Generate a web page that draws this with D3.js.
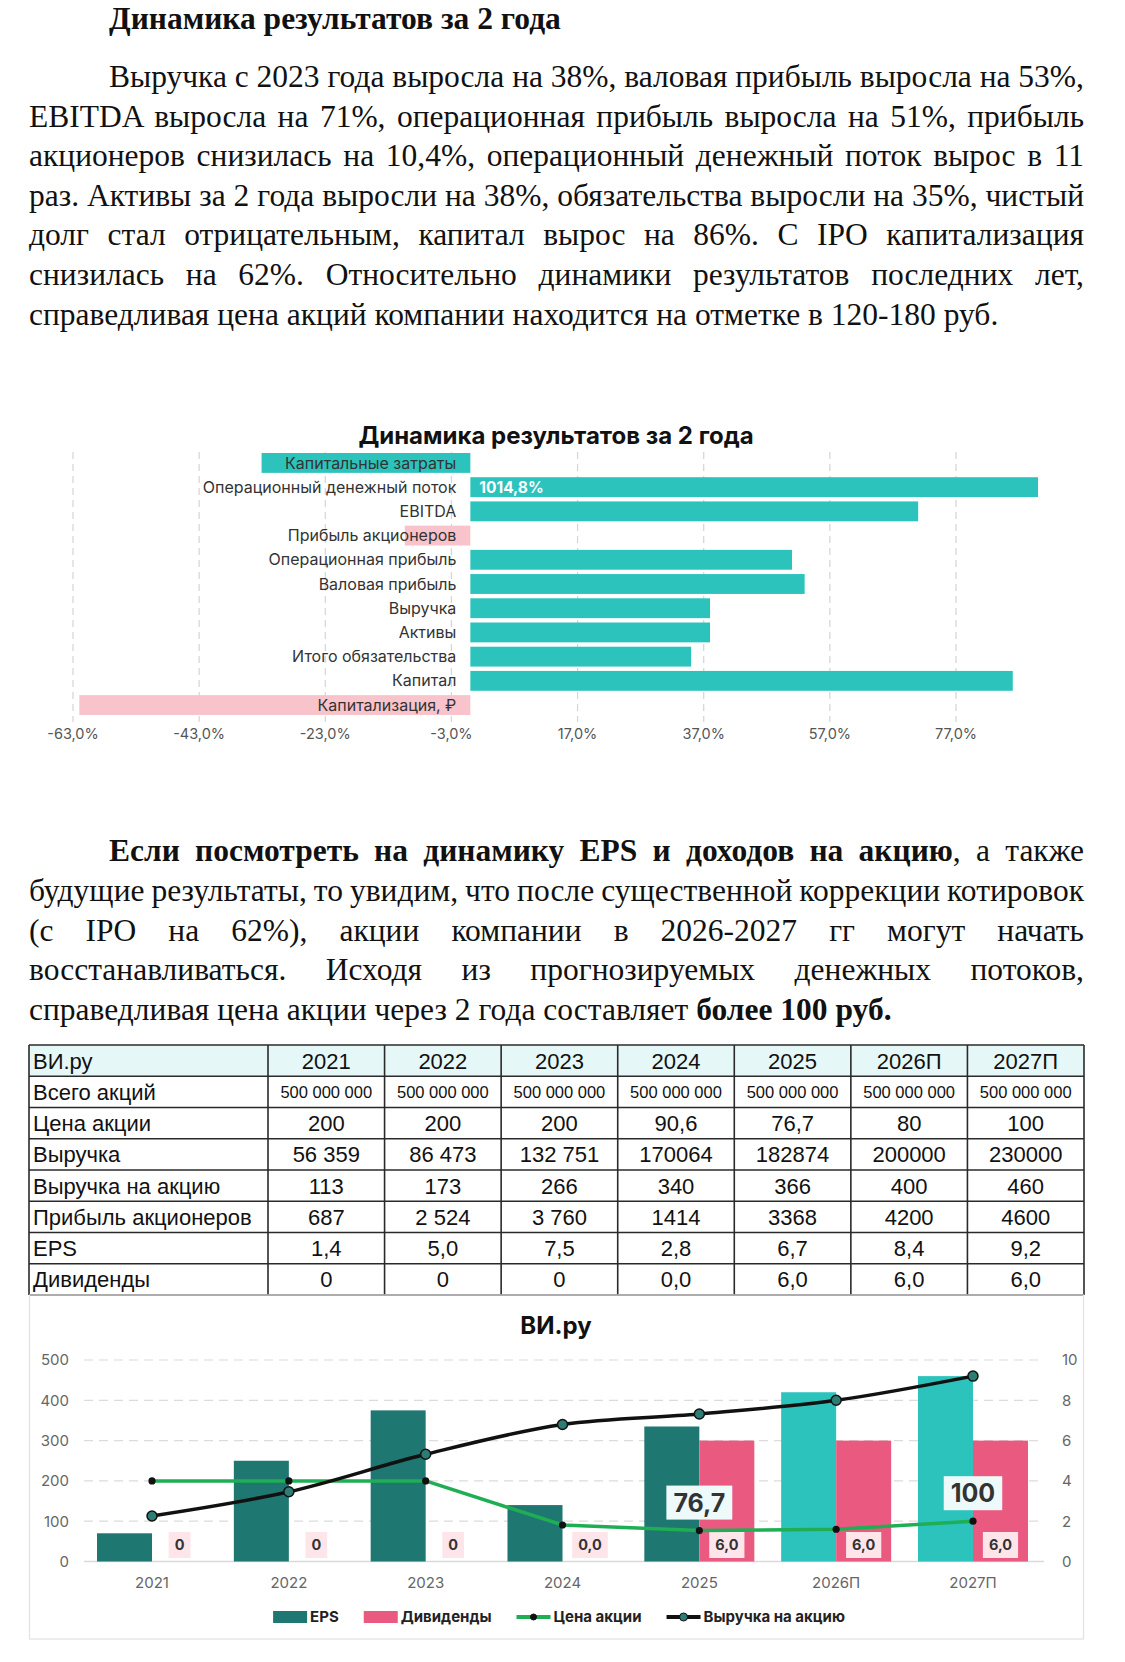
<!DOCTYPE html>
<html lang="ru">
<head>
<meta charset="utf-8">
<title>ВИ.ру — динамика результатов</title>
<script src="https://cdn.jsdelivr.net/npm/d3@7/dist/d3.min.js"></script>
<style>
  html, body { margin: 0; padding: 0; background: #fff; }
  #page { position: relative; width: 1125px; height: 1662px; overflow: hidden; }
  #page svg { position: absolute; left: 0; top: 0; }
  .ln { position: absolute; white-space: pre; font-family: "Liberation Serif", "Times New Roman", serif;
        font-size: 31.5px; line-height: 40px; color: #111; }
  .ln b { font-weight: 700; }
</style>
</head>
<body>
<div id="page"><svg id="svg" width="1125" height="1662"></svg></div>
<script>
// ---------- text ----------
const pageTitle = 'Динамика результатов за 2 года';
const para1 = [
    'Выручка с 2023 года выросла на 38%, валовая прибыль выросла на 53%,',
    'EBITDA выросла на 71%, операционная прибыль выросла на 51%, прибыль',
    'акционеров снизилась на 10,4%, операционный денежный поток вырос в 11',
    'раз. Активы за 2 года выросли на 38%, обязательства выросли на 35%, чистый',
    'долг стал отрицательным, капитал вырос на 86%. С IPO капитализация',
    'снизилась на 62%. Относительно динамики результатов последних лет,',
    'справедливая цена акций компании находится на отметке в 120-180 руб.'
];
const para2 = [
    '**Если посмотреть на динамику EPS и доходов на акцию**, а также',
    'будущие результаты, то увидим, что после существенной коррекции котировок',
    '(с IPO на 62%), акции компании в 2026-2027 гг могут начать',
    'восстанавливаться. Исходя из прогнозируемых денежных потоков,',
    'справедливая цена акции через 2 года составляет **более 100 руб.**'
];

// ---------- growth chart data (% change over 2 years) ----------
const growthTitle = 'Динамика результатов за 2 года';
const growthCats = ['Капитальные затраты', 'Операционный денежный поток', 'EBITDA', 'Прибыль акционеров',
    'Операционная прибыль', 'Валовая прибыль', 'Выручка', 'Активы', 'Итого обязательства', 'Капитал',
    'Капитализация, ₽'];
const growthVals = [-33.1, 1014.8, 71, -10.4, 51, 53, 38, 38, 35, 86, -62];
const growthTicks = [-63, -43, -23, -3, 17, 37, 57, 77];
const lowerIsBetter = ['Капитальные затраты'];

// ---------- company data ----------
const years = ['2021', '2022', '2023', '2024', '2025', '2026П', '2027П'];
const forecastYears = ['2026П', '2027П'];
const shares = [500000000, 500000000, 500000000, 500000000, 500000000, 500000000, 500000000];
const price = [200, 200, 200, 90.6, 76.7, 80, 100];
const revenue = [56359, 86473, 132751, 170064, 182874, 200000, 230000];
const revPerShare = [113, 173, 266, 340, 366, 400, 460];
const netProfit = [687, 2524, 3760, 1414, 3368, 4200, 4600];
const eps = [1.4, 5.0, 7.5, 2.8, 6.7, 8.4, 9.2];
const dividends = [0, 0, 0, 0, 6, 6, 6];
const priceLabelYears = ['2025', '2027П'];

const TEAL = '#2cc3bc', DARK_TEAL = '#1f7772', PINK = '#f8c3ca', HOT_PINK = '#ea5a80', GREEN = '#1fae54';
const SANS = 'Inter, "Noto Sans", sans-serif';

const page = d3.select('#page');
const svg = d3.select('#svg');

// ---------- justified text lines ----------
function addLine(str, left, right, center, justify, bold) {
    const div = page.append('div').attr('class', 'ln')
        .style('left', left + 'px')
        .style('top', (center - 20) + 'px');
    str.split('**').forEach((part, i) => {
        if (!part) return;
        (i % 2 === 1 || bold ? div.append('b') : div.append('span')).text(part);
    });
    if (justify) {
        const natural = div.node().getBoundingClientRect().width;
        const spaces = (str.match(/ /g) || []).length;
        div.style('word-spacing', ((right - left - natural) / spaces) + 'px');
    }
}

addLine(pageTitle, 109, 1084, 19, false, true);
para1.forEach((s, i) => addLine(s, i === 0 ? 109 : 29, 1084, 77 + i * 39.6, i < para1.length - 1));
para2.forEach((s, i) => addLine(s, i === 0 ? 109 : 29, 1084, 851 + i * 39.8, i < para2.length - 1));

// ---------- growth bar chart ----------
const pct = v => v.toFixed(1).replace('.', ',') + '%';
const gx = d3.scaleLinear().domain([-63, 90]).range([73, 1038]);
const gy = d3.scaleBand().domain(growthCats).range([453, 715]).paddingInner(0.18);
const g1 = svg.append('g');

g1.append('text')
    .attr('x', 556).attr('y', 436).attr('dy', '0.35em')
    .attr('text-anchor', 'middle')
    .style('font', `700 24px ${SANS}`).style('fill', '#111')
    .text(growthTitle);

g1.append('g').selectAll('line').data(growthTicks).join('line')
    .attr('x1', d => gx(d)).attr('x2', d => gx(d))
    .attr('y1', 452).attr('y2', 722)
    .attr('stroke', '#d4d4d4').attr('stroke-width', 1.2).attr('stroke-dasharray', '7,5');

g1.append('g').selectAll('text').data(growthTicks).join('text')
    .attr('x', d => gx(d)).attr('y', 734).attr('dy', '0.35em')
    .attr('text-anchor', 'middle')
    .style('font', `400 14.5px ${SANS}`).style('fill', '#555')
    .text(pct);

const growthRows = growthCats.map((c, i) => ({ cat: c, v: growthVals[i] }));
const maxShown = gx.domain()[1];

g1.append('g').selectAll('rect').data(growthRows).join('rect')
    .attr('x', d => gx(Math.min(0, d.v)))
    .attr('width', d => Math.abs(gx(Math.min(d.v, maxShown)) - gx(0)))
    .attr('y', d => gy(d.cat))
    .attr('height', gy.bandwidth())
    .attr('fill', d => ((d.v >= 0) !== lowerIsBetter.includes(d.cat)) ? TEAL : PINK);

g1.append('g').selectAll('text').data(growthRows).join('text')
    .attr('x', gx(0) - 14).attr('y', d => gy(d.cat) + gy.bandwidth() / 2).attr('dy', '0.35em')
    .attr('text-anchor', 'end')
    .style('font', `400 16px ${SANS}`).style('fill', '#333')
    .text(d => d.cat);

// values that run past the axis get a label inside the bar
g1.append('g').selectAll('text').data(growthRows.filter(d => d.v > maxShown)).join('text')
    .attr('x', gx(0) + 9).attr('y', d => gy(d.cat) + gy.bandwidth() / 2).attr('dy', '0.36em')
    .style('font', `700 15.5px ${SANS}`).style('fill', '#fff')
    .text(d => pct(d.v));

// ---------- table ----------
const ru = d3.formatLocale({ decimal: ',', thousands: ' ', grouping: [3], currency: ['', ''] });
const grouped = ru.format(',d'), plain = ru.format('d'), one = ru.format('.1f');
const oldStyle = i => i < 3; // 2021-2023 figures are written with spaces / as integers

const tableRows = [
    { label: 'ВИ.ру', vals: years, fmt: d => d, head: true },
    { label: 'Всего акций', vals: shares, fmt: d => grouped(d), small: true },
    { label: 'Цена акции', vals: price, fmt: d => Number.isInteger(d) ? plain(d) : one(d) },
    { label: 'Выручка', vals: revenue, fmt: (d, i) => oldStyle(i) ? grouped(d) : plain(d) },
    { label: 'Выручка на акцию', vals: revPerShare, fmt: d => plain(d) },
    { label: 'Прибыль акционеров', vals: netProfit, fmt: (d, i) => oldStyle(i) ? grouped(d) : plain(d) },
    { label: 'EPS', vals: eps, fmt: d => one(d) },
    { label: 'Дивиденды', vals: dividends, fmt: (d, i) => oldStyle(i) ? plain(d) : one(d) }
];

const tLeft = 29, tRight = 1084, tSplit = 268;
const ty = d3.scaleBand().domain(d3.range(tableRows.length)).range([1045, 1295]);
const tx = d3.scaleBand().domain(years).range([tSplit, tRight]);
const tg = svg.append('g');
const TFONT = '"Liberation Sans", Arial, sans-serif';

tg.append('rect').attr('x', tLeft).attr('y', ty(0)).attr('width', tRight - tLeft)
    .attr('height', ty.bandwidth()).attr('fill', '#e6f7f8');

tableRows.forEach((row, r) => {
    const yc = ty(r) + ty.bandwidth() / 2;
    const fs = row.small ? 16.5 : 22;
    tg.append('text').attr('x', tLeft + 4).attr('y', yc).attr('dy', '0.36em')
        .style('font', `400 22px ${TFONT}`).style('fill', '#111')
        .text(row.label);
    tg.append('g').selectAll('text').data(row.vals).join('text')
        .attr('x', (d, i) => tx(years[i]) + tx.bandwidth() / 2).attr('y', yc).attr('dy', '0.36em')
        .attr('text-anchor', 'middle')
        .style('font', `400 ${fs}px ${TFONT}`).style('fill', '#111')
        .text((d, i) => row.fmt(d, i));
});

const hLines = d3.range(tableRows.length + 1).map(r => r < tableRows.length ? ty(r) : ty.range()[1]);
tg.append('g').selectAll('line').data(hLines).join('line')
    .attr('x1', tLeft).attr('x2', tRight).attr('y1', d => d).attr('y2', d => d)
    .attr('stroke', '#2a2a2a').attr('stroke-width', 1.6);
const vLines = [tLeft, ...years.map(y => tx(y)), tRight];
tg.append('g').selectAll('line').data(vLines).join('line')
    .attr('x1', d => d).attr('x2', d => d).attr('y1', ty.range()[0]).attr('y2', ty.range()[1])
    .attr('stroke', '#2a2a2a').attr('stroke-width', 1.6);

// ---------- combo chart ----------
const cg = svg.append('g');
cg.append('rect').attr('x', 29.5).attr('y', 1295).attr('width', 1054).attr('height', 344)
    .attr('fill', 'none').attr('stroke', '#e2e2e2').attr('stroke-width', 1.2);

cg.append('text').attr('x', 556).attr('y', 1326).attr('dy', '0.35em').attr('text-anchor', 'middle')
    .style('font', `700 24px ${SANS}`).style('fill', '#111').text('ВИ.ру');

const cx = d3.scaleBand().domain(years).range([83.6, 1041.4]).paddingInner(0.196).paddingOuter(0.098);
const sub = d3.scaleBand().domain(['eps', 'div']).range([0, cx.bandwidth()]);
const yL = d3.scaleLinear().domain([0, 500]).range([1561.5, 1360]);
const yR = d3.scaleLinear().domain([0, 10]).range([1561.5, 1360]);

cg.append('g').selectAll('line').data(yL.ticks(5).filter(d => d > 0)).join('line')
    .attr('x1', 84).attr('x2', 1044).attr('y1', d => yL(d)).attr('y2', d => yL(d))
    .attr('stroke', '#dcdcdc').attr('stroke-width', 1.2).attr('stroke-dasharray', '9,6');
cg.append('line').attr('x1', 84).attr('x2', 1044).attr('y1', yL(0)).attr('y2', yL(0))
    .attr('stroke', '#d9d9d9').attr('stroke-width', 1.5);

const styleAxis = g => {
    g.select('.domain').remove();
    g.selectAll('text').style('font', `400 15px ${SANS}`).style('fill', '#666');
};
cg.append('g').attr('transform', 'translate(72,0)')
    .call(d3.axisLeft(yL).ticks(5).tickSize(0).tickPadding(3)).call(styleAxis);
cg.append('g').attr('transform', 'translate(1059,0)')
    .call(d3.axisRight(yR).ticks(5).tickSize(0).tickPadding(3)).call(styleAxis);
cg.append('g').attr('transform', `translate(0,${yL(0)})`)
    .call(d3.axisBottom(cx).tickSize(0).tickPadding(16)).call(styleAxis);

const rows = years.map((y, i) => ({
    year: y, eps: eps[i], div: dividends[i], price: price[i], rev: revPerShare[i]
}));

// bars
cg.append('g').selectAll('rect').data(rows).join('rect')
    .attr('x', d => cx(d.year) + sub('eps')).attr('width', sub.bandwidth())
    .attr('y', d => yR(d.eps)).attr('height', d => yR(0) - yR(d.eps))
    .attr('fill', d => forecastYears.includes(d.year) ? TEAL : DARK_TEAL);
cg.append('g').selectAll('rect').data(rows).join('rect')
    .attr('x', d => cx(d.year) + sub('div')).attr('width', sub.bandwidth())
    .attr('y', d => yR(d.div)).attr('height', d => yR(0) - yR(d.div))
    .attr('fill', HOT_PINK);

// dividend labels
const divLab = cg.append('g').selectAll('g').data(rows).join('g')
    .attr('transform', d => `translate(${cx(d.year) + sub('div') + sub.bandwidth() / 2},1545)`);
divLab.append('text').attr('text-anchor', 'middle').attr('dy', '0.36em')
    .style('font', `700 14.5px ${SANS}`).style('fill', '#333')
    .text((d, i) => oldStyle(i) ? plain(d.div) : one(d.div));
divLab.each(function () {
    const t = d3.select(this).select('text');
    const w = t.node().getComputedTextLength() + 12;
    d3.select(this).insert('rect', 'text').attr('x', -w / 2).attr('y', -13)
        .attr('width', w).attr('height', 26).attr('fill', '#fde5ea');
});

// lines
const cx0 = d => cx(d.year) + cx.bandwidth() / 2;
const revLine = d3.line().x(cx0).y(d => yL(d.rev)).curve(d3.curveCatmullRom.alpha(0.5));
const priceLine = d3.line().x(cx0).y(d => yL(d.price));

cg.append('path').datum(rows).attr('d', priceLine)
    .attr('fill', 'none').attr('stroke', GREEN).attr('stroke-width', 3.5).attr('stroke-linejoin', 'round');
cg.append('g').selectAll('circle').data(rows).join('circle')
    .attr('cx', cx0).attr('cy', d => yL(d.price)).attr('r', 3.6).attr('fill', '#111');

cg.append('path').datum(rows).attr('d', revLine)
    .attr('fill', 'none').attr('stroke', '#111').attr('stroke-width', 3.5);
cg.append('g').selectAll('circle').data(rows).join('circle')
    .attr('cx', cx0).attr('cy', d => yL(d.rev)).attr('r', 5)
    .attr('fill', '#2d7d77').attr('stroke', '#111').attr('stroke-width', 1.5);

// price call-outs
const pLab = cg.append('g').selectAll('g').data(rows.filter(d => priceLabelYears.includes(d.year))).join('g')
    .attr('transform', d => `translate(${cx0(d)},${yL(d.price) - 28})`);
pLab.append('text').attr('text-anchor', 'middle').attr('dy', '0.36em')
    .style('font', `700 25px ${SANS}`).style('fill', '#333')
    .text(d => Number.isInteger(d.price) ? plain(d.price) : one(d.price));
pLab.each(function () {
    const t = d3.select(this).select('text');
    const w = t.node().getComputedTextLength() + 14;
    d3.select(this).insert('rect', 'text').attr('x', -w / 2).attr('y', -17)
        .attr('width', w).attr('height', 34).attr('fill', '#eefaf9');
});

// legend
const legendItems = [
    { name: 'EPS', type: 'bar', color: DARK_TEAL },
    { name: 'Дивиденды', type: 'bar', color: HOT_PINK },
    { name: 'Цена акции', type: 'line', color: GREEN, dot: '#111', r: 3 },
    { name: 'Выручка на акцию', type: 'line', color: '#111', dot: '#2d7d77', r: 4 }
];
const lg = cg.append('g');
let lxPos = 0;
legendItems.forEach(item => {
    const it = lg.append('g').attr('transform', `translate(${lxPos},0)`);
    if (item.type === 'bar') {
        it.append('rect').attr('x', 0).attr('y', -6).attr('width', 34).attr('height', 12).attr('fill', item.color);
    } else {
        it.append('line').attr('x1', 0).attr('x2', 34).attr('y1', 0).attr('y2', 0)
            .attr('stroke', item.color).attr('stroke-width', 4);
        it.append('circle').attr('cx', 17).attr('cy', 0).attr('r', item.r)
            .attr('fill', item.dot).attr('stroke', '#111').attr('stroke-width', 1);
    }
    const t = it.append('text').attr('x', 37).attr('dy', '0.36em')
        .style('font', `700 15px ${SANS}`).style('fill', '#222').text(item.name);
    lxPos += 37 + t.node().getComputedTextLength() + 25;
});
const lw = lxPos - 25;
lg.attr('transform', `translate(${559 - lw / 2},1617)`);
</script>
</body>
</html>
